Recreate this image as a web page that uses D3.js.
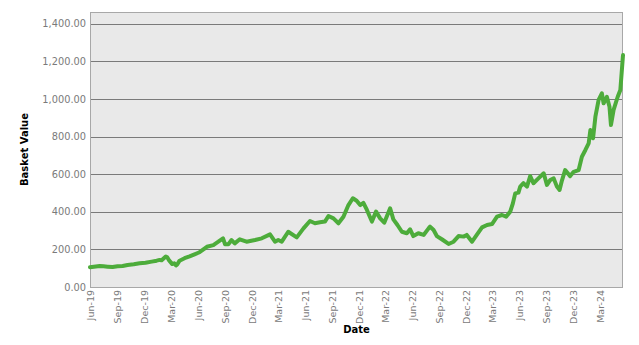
<!DOCTYPE html>
<html>
<head>
<meta charset="utf-8">
<script src="https://cdn.jsdelivr.net/npm/d3@7"></script>
<style>
html,body{margin:0;padding:0;background:#fff;}
svg{display:block;}
</style>
</head>
<body>
<svg id="chart" width="639" height="345"></svg>
<script>
// ---- Data ----
const dates = [
"2019-05-30","2019-07-02","2019-07-15","2019-07-29","2019-08-15","2019-09-01","2019-09-18","2019-10-05","2019-10-26","2019-11-15",
"2019-12-05","2019-12-26","2020-01-12","2020-01-22","2020-01-29","2020-02-12","2020-02-17","2020-02-24","2020-03-05","2020-03-12",
"2020-03-18","2020-03-22","2020-03-30","2020-04-16","2020-05-03","2020-05-20","2020-06-06","2020-06-24","2020-07-01","2020-07-23",
"2020-08-09","2020-08-25","2020-09-01","2020-09-12","2020-09-23","2020-10-04","2020-10-21","2020-11-13","2020-12-12","2021-01-04",
"2021-02-01","2021-02-18","2021-03-01","2021-03-13","2021-04-04","2021-05-03","2021-05-26","2021-06-17","2021-07-04","2021-07-21",
"2021-08-07","2021-08-19","2021-09-05","2021-09-22","2021-10-09","2021-10-26","2021-11-10","2021-11-23","2021-12-05","2021-12-16",
"2021-12-28","2022-01-14","2022-01-28","2022-02-11","2022-02-25","2022-03-17","2022-03-28","2022-04-11","2022-04-26","2022-05-13",
"2022-05-24","2022-06-04","2022-06-21","2022-07-09","2022-07-26","2022-07-31","2022-08-12","2022-08-23","2022-09-09","2022-10-02",
"2022-10-19","2022-11-05","2022-11-22","2022-12-03","2022-12-21","2023-01-06","2023-01-24","2023-02-10","2023-02-27","2023-03-16",
"2023-04-02","2023-04-16","2023-04-30","2023-05-09","2023-05-17","2023-05-28","2023-06-03","2023-06-14","2023-06-26","2023-07-07",
"2023-07-18","2023-08-04","2023-08-22","2023-09-02","2023-09-13","2023-09-25","2023-10-06","2023-10-15","2023-10-23","2023-11-03",
"2023-11-20","2023-12-02","2023-12-19","2023-12-30","2024-01-11","2024-01-22","2024-01-28","2024-02-06","2024-02-14","2024-02-25",
"2024-03-07","2024-03-13","2024-03-24","2024-04-02","2024-04-07","2024-04-16","2024-04-30","2024-05-09","2024-05-18"
];
const basketValues = [
105,112,110,108,106,110,112,117,121,126,
129,135,140,144,142,162,158,140,122,126,
115,120,140,153,163,174,185,206,214,223,
241,259,227,227,250,232,254,241,250,259,
280,241,250,241,294,264,312,351,339,344,
348,378,365,339,374,436,472,459,436,448,
410,348,401,365,342,419,360,330,294,286,
307,271,286,277,312,321,303,271,254,229,
241,271,268,277,241,277,317,330,335,374,
383,374,401,445,498,502,534,552,534,590,
552,578,605,543,569,578,534,516,566,622,
590,613,622,693,729,764,835,791,906,995,
1030,977,1012,959,862,942,1012,1048,1234
];
const xTickLabels = ["Jun-19","Sep-19","Dec-19","Mar-20","Jun-20","Sep-20","Dec-20","Mar-21","Jun-21","Sep-21","Dec-21",
"Mar-22","Jun-22","Sep-22","Dec-22","Mar-23","Jun-23","Sep-23","Dec-23","Mar-24"];
const yTicks = [0,200,400,600,800,1000,1200,1400];
const yMax = 1463;
const xTitle = "Date";
const yTitle = "Basket Value";

// ---- Build ----
const parseDate = d3.timeParse("%Y-%m-%d");
const parseTick = d3.timeParse("%b-%y");
const data = dates.map((d,i)=>({date:parseDate(d), value:basketValues[i]}));

const svg = d3.select("#chart");
const mLeft = 90, mRight = 623, mTop = 12, mBottom = 287;

const x = d3.scaleTime().domain(d3.extent(data, d=>d.date)).range([mLeft, mRight]);
const y = d3.scaleLinear().domain([0, yMax]).range([mBottom, mTop]);

// plot background
svg.append("rect")
  .attr("x", mLeft).attr("y", mTop)
  .attr("width", mRight-mLeft).attr("height", mBottom-mTop)
  .attr("fill", "#e9e9e9");

// grid lines
svg.append("g").selectAll("line").data(yTicks.filter(v=>v>0)).join("line")
  .attr("x1", mLeft).attr("x2", mRight)
  .attr("y1", d=>Math.round(y(d))+0.5).attr("y2", d=>Math.round(y(d))+0.5)
  .attr("stroke", "#7a7a7a").attr("stroke-width", 1);

// border
svg.append("rect")
  .attr("x", mLeft+0.5).attr("y", mTop+0.5)
  .attr("width", mRight-mLeft-1).attr("height", mBottom-mTop)
  .attr("fill", "none").attr("stroke", "#a8a8a8").attr("stroke-width", 1);

// y axis
const yAxis = d3.axisLeft(y).tickValues(yTicks).tickFormat(d3.format(",.2f")).tickSize(0).tickPadding(4);
const gy = svg.append("g").attr("transform", `translate(${mLeft},0)`).call(yAxis);
gy.select(".domain").remove();
gy.selectAll("text").attr("fill", "#7a7a7a").style("font-family", "DejaVu Sans").style("font-size", "9.8px");

// x axis
const xAxis = d3.axisBottom(x).tickValues(xTickLabels.map(parseTick)).tickFormat(d3.timeFormat("%b-%y")).tickSize(0);
const gx = svg.append("g").attr("transform", `translate(0,${mBottom})`).call(xAxis);
gx.select(".domain").remove();
gx.selectAll("text")
  .attr("fill", "#7a7a7a")
  .style("font-family", "DejaVu Sans").style("font-size", "9.5px")
  .attr("text-anchor", "end")
  .attr("transform", "rotate(-90)")
  .attr("x", -3).attr("y", 0).attr("dy", "0.35em");

// line
const line = d3.line().x(d=>x(d.date)).y(d=>y(d.value));
svg.append("path").datum(data)
  .attr("d", line)
  .attr("fill", "none")
  .attr("stroke", "#4dac3b")
  .attr("stroke-width", 4)
  .attr("stroke-linejoin", "round")
  .attr("stroke-linecap", "round");

// titles
svg.append("text")
  .attr("x", (mLeft+mRight)/2).attr("y", 330)
  .attr("text-anchor", "middle").attr("dominant-baseline", "middle")
  .style("font-family", "DejaVu Sans").style("font-weight", "bold").style("font-size", "10px")
  .attr("fill", "#000").text(xTitle);

svg.append("text")
  .attr("transform", `translate(25,${(mTop+mBottom)/2}) rotate(-90)`)
  .attr("text-anchor", "middle").attr("dominant-baseline", "middle")
  .style("font-family", "DejaVu Sans").style("font-weight", "bold").style("font-size", "10px")
  .attr("fill", "#000").text(yTitle);
</script>
</body>
</html>
